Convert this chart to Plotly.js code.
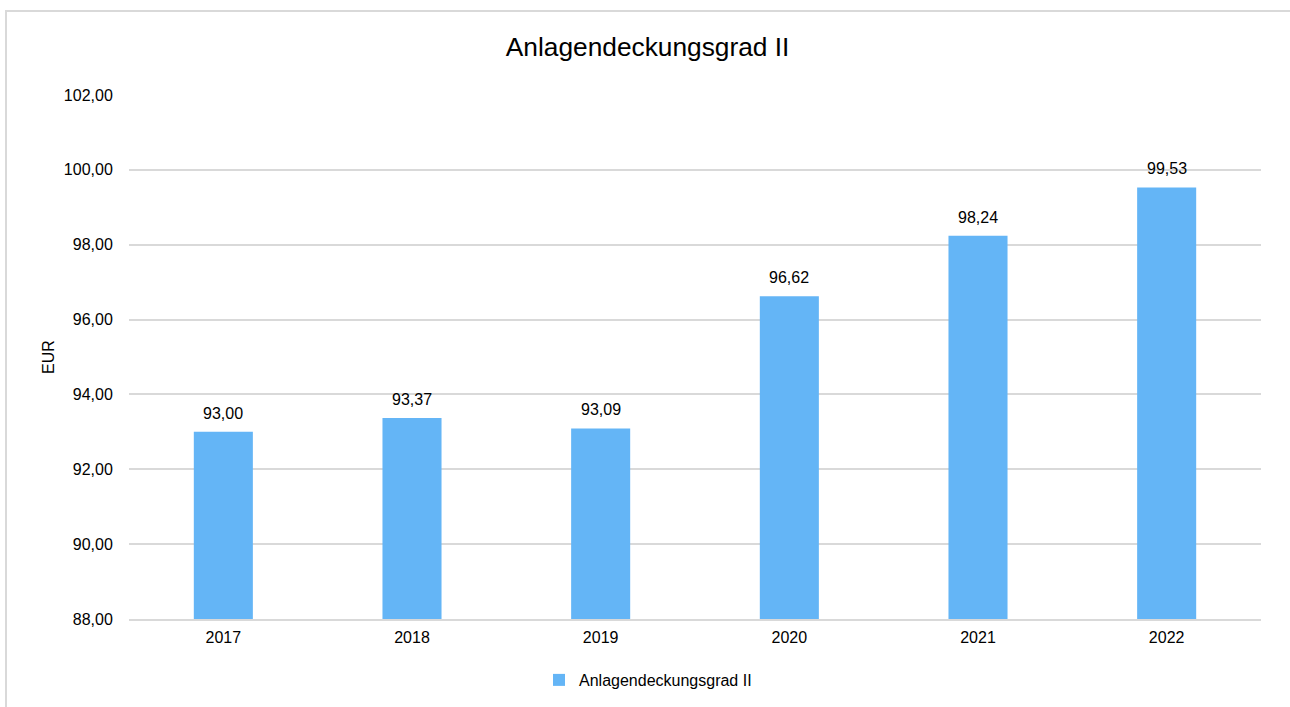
<!DOCTYPE html>
<html><head><meta charset="utf-8">
<script src="https://cdn.plot.ly/plotly-3.0.1.min.js"></script>
<style>
html,body{margin:0;padding:0;background:#fff;}
#wrap{position:relative;width:1290px;height:707px;overflow:hidden;}
#chart{position:absolute;left:0;top:0;width:1290px;height:707px;}
#frame{position:absolute;left:5px;top:10px;width:1300px;height:720px;border:2px solid #d9d9d9;pointer-events:none;box-sizing:border-box;}
</style></head>
<body><div id="wrap"><div id="chart"></div><div id="frame"></div></div>
<script>
const categories = ['2017','2018','2019','2020','2021','2022'];
const values = [93.00, 93.37, 93.09, 96.62, 98.24, 99.53];
const seriesName = 'Anlagendeckungsgrad II';
const yTicks = [88, 90, 92, 94, 96, 98, 100, 102];

const fmt = v => v.toFixed(2).replace('.', ',');
const font = 'Liberation Sans, Arial, sans-serif';

const trace = {
  type: 'bar', x: categories, y: values, name: seriesName,
  marker: {color: '#64B5F6'}, showlegend: true, hoverinfo: 'none'
};
const annotations = categories.map((c, i) => ({
  x: i, y: values[i], text: fmt(values[i]), showarrow: false,
  yanchor: 'bottom', yshift: 8, font: {family: font, size: 16, color: '#000'}
}));
const layout = {
  width: 1290, height: 707,
  margin: {l: 129, r: 29, t: 95, b: 88, autoexpand: false},
  paper_bgcolor: '#fff', plot_bgcolor: '#fff',
  font: {family: font, size: 16, color: '#000'},
  separators: ',.',
  bargap: 0.687,
  title: {text: 'Anlagendeckungsgrad II', x: 0.502, xref: 'container', y: 1 - 47/707, yref: 'container', yanchor: 'middle', font: {family: font, size: 26.3, color: '#000'}},
  xaxis: {type: 'category', showgrid: false, zeroline: false, showline: true, linecolor: '#d9d9d9', linewidth: 2,
    ticks: 'outside', ticklen: 3, tickcolor: 'rgba(0,0,0,0)', tickfont: {family: font, size: 16, color: '#000'}},
  yaxis: {range: [88, 102], tickvals: yTicks, ticktext: yTicks.map(fmt), showgrid: true, gridcolor: '#d9d9d9', gridwidth: 2,
    zeroline: false, showline: false, ticks: 'outside', ticklen: 12, tickcolor: 'rgba(0,0,0,0)',
    tickfont: {family: font, size: 16, color: '#000'},
    title: {text: 'EUR', standoff: 5, font: {family: font, size: 16, color: '#000'}}},
  legend: {orientation: 'h', x: 0.4585, xanchor: 'center', y: -0.1164, yanchor: 'middle', font: {family: font, size: 16, color: '#000'}, itemwidth: 30},
  annotations: annotations
};
Plotly.newPlot('chart', [trace], layout, {displayModeBar: false, staticPlot: true});
</script></body></html>
